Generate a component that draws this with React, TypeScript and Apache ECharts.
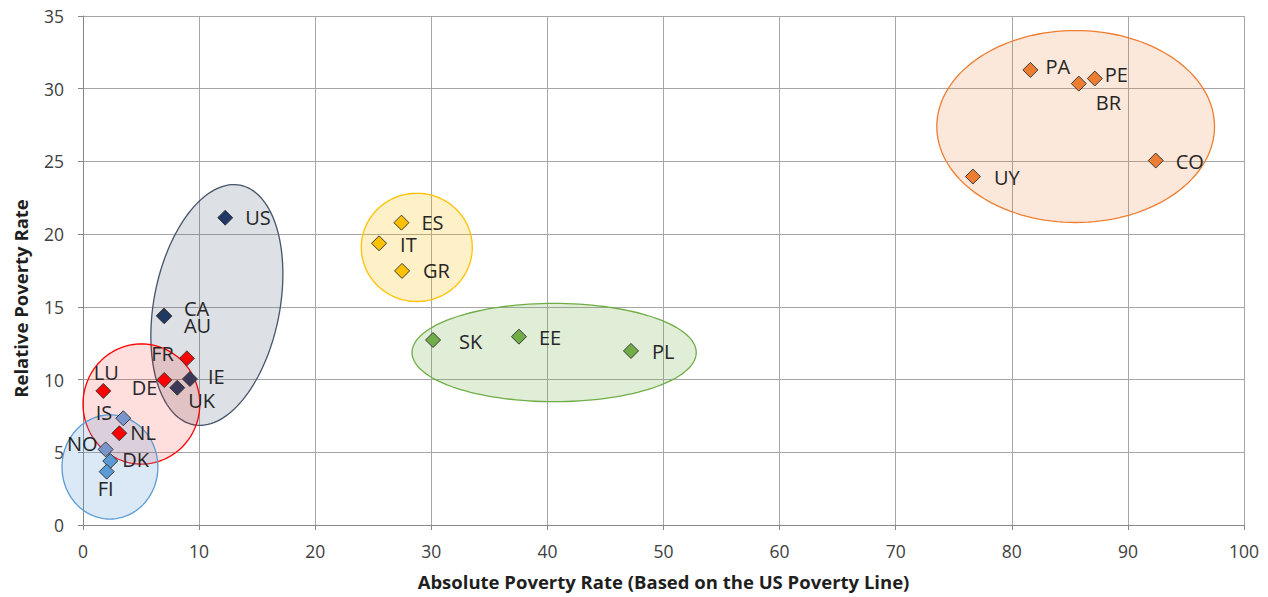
import React, { useEffect, useRef } from "react";
import * as echarts from "echarts";

// ---- Data ----
const codes = ["US","CA","AU","FR","IE","UK","DE","LU","IS","NL","NO","DK","FI","ES","IT","GR","SK","EE","PL","PA","PE","BR","CO","UY"];
const absoluteRate = [12.25,6.97,7.0,8.95,9.21,8.12,7.0,1.75,3.47,3.13,1.95,2.35,2.04,27.43,25.5,27.48,30.15,37.55,47.2,81.6,87.15,85.77,92.4,76.65];
const relativeRate = [21.13,14.4,14.35,11.46,10.04,9.44,9.97,9.22,7.34,6.31,5.2,4.4,3.67,20.79,19.37,17.47,12.72,12.95,11.97,31.29,30.7,30.35,25.06,23.96];
const markerGroup = [0,0,0,2,1,1,2,2,3,2,3,4,4,5,5,5,6,6,6,7,7,7,7,7];
const groupColors = ["#1f3864","#3b3858","#ff0000","#7a95cc","#5b9bd5","#ffc000","#70ad47","#ed7d31"];

const xTicks = [0,10,20,30,40,50,60,70,80,90,100];
const yTicks = [0,5,10,15,20,25,30,35];
const xTitle = "Absolute Poverty Rate (Based on the US Poverty Line)";
const yTitle = "Relative Poverty Rate";

// cluster ellipses (center x, center y, radius x, radius y in data units, rotation deg)
const ellipseCx = [11.53, 5.03, 2.32, 28.75, 40.58, 85.5];
const ellipseCy = [15.13, 8.32, 3.99, 19.09, 11.86, 27.4];
const ellipseRx = [5.42, 5.03, 4.13, 4.78, 12.24, 11.96];
const ellipseRy = [8.39, 4.13, 3.58, 3.72, 3.38, 6.6];
const ellipseRot = [-11, 0, 0, 0, 0, 0];
const ellipseStroke = ["#44546a", "#ff0000", "#5b9bd5", "#ffc000", "#70ad47", "#ed7d31"];
const ellipseFill = ["rgba(68,84,106,0.18)", "rgba(255,0,0,0.13)", "rgba(91,155,213,0.22)", "rgba(255,192,0,0.22)", "rgba(112,173,71,0.22)", "rgba(237,125,49,0.18)"];

// label placement (align, dx, dy); CA and AU share one two-line label (coincident points)
const labelPlace: Record<string, [string, number, number]> = {
  US: ["left", 20, 0], CA: ["left", 20, 1], AU: ["left", 20, 0],
  FR: ["right", -13, -5], IE: ["left", 18, -2], UK: ["left", 11, 13],
  DE: ["right", -7, 7], LU: ["center", 3, -18], IS: ["right", -11, -6],
  NL: ["left", 11, -1], NO: ["right", -8, -6], DK: ["left", 12, -2],
  FI: ["center", -1, 17], ES: ["left", 20, 0], IT: ["left", 21, 1],
  GR: ["left", 21, 0], SK: ["left", 26, 1], EE: ["left", 20, 1],
  PL: ["left", 21, 1], PA: ["left", 15, -3], PE: ["left", 10, -4],
  BR: ["left", 17, 19], CO: ["left", 20, 1], UY: ["left", 21, 1],
};
const sharedLabel: Record<string, string> = { CA: "CA\nAU", AU: "" };

export default function App() {
  const ref = useRef<HTMLDivElement>(null);
  useEffect(() => {
    if (!ref.current) return;
    const chart = echarts.init(ref.current, null, { renderer: "svg" });
    const font = "'Open Sans', 'Noto Sans', sans-serif";

    const ellipseData = ellipseCx.map((cx, i) => [cx, ellipseCy[i], ellipseRx[i], ellipseRy[i], ellipseRot[i], i]);

    const scatterSeries = groupColors.map((color, g) => ({
      type: "scatter",
      symbol: "diamond",
      symbolSize: 15,
      z: 5,
      itemStyle: { color, borderColor: "#3a3a3a", borderWidth: 1, opacity: 1 },
      data: codes
        .map((c, i) => ({ c, i }))
        .filter(({ i }) => markerGroup[i] === g)
        .map(({ c, i }) => {
          const p = labelPlace[c];
          const text = c in sharedLabel ? sharedLabel[c] : c;
          return {
            name: c,
            value: [absoluteRate[i], relativeRate[i]],
            label: {
              show: text !== "",
              formatter: text,
              position: "inside",
              align: p[0],
              verticalAlign: "middle",
              offset: [p[1], p[2]],
              fontSize: 20,
              lineHeight: 17,
              fontFamily: font,
              color: "#262626",
            },
          };
        }),
    }));

    chart.setOption({
      animation: false,
      backgroundColor: "#ffffff",
      grid: { left: 83, right: 24, top: 16, bottom: 72 },
      graphic: [
        {
          type: "text",
          x: 20,
          y: 298.5,
          rotation: Math.PI / 2,
          silent: true,
          style: {
            text: yTitle,
            fontSize: 18.5,
            fontWeight: "bold",
            fontFamily: font,
            fill: "#1f1f1f",
            align: "center",
            verticalAlign: "middle",
          },
        },
      ],
      xAxis: {
        type: "value",
        min: xTicks[0],
        max: xTicks[xTicks.length - 1],
        interval: 10,
        name: xTitle,
        nameLocation: "middle",
        nameGap: 47,
        nameTextStyle: { fontSize: 18.5, fontWeight: "bold", fontFamily: font, color: "#1f1f1f" },
        axisLine: { show: true, lineStyle: { color: "#868686" } },
        axisTick: { show: true, length: 5, lineStyle: { color: "#868686" } },
        axisLabel: { fontSize: 17.5, fontFamily: font, color: "#404040", margin: 17 },
        splitLine: { show: true, lineStyle: { color: "#a6a6a6", width: 1 } },
      },
      yAxis: {
        type: "value",
        min: yTicks[0],
        max: yTicks[yTicks.length - 1],
        interval: 5,
        axisLine: { show: true, lineStyle: { color: "#868686" } },
        axisTick: { show: true, length: 5, lineStyle: { color: "#868686" } },
        axisLabel: { fontSize: 17.5, fontFamily: font, color: "#404040", margin: 19 },
        splitLine: { show: true, lineStyle: { color: "#a6a6a6", width: 1 } },
      },
      series: [
        {
          type: "custom",
          silent: true,
          z: 2,
          clip: false,
          data: ellipseData,
          renderItem: (params: any, api: any) => {
            const c = api.coord([api.value(0), api.value(1)]);
            const s = api.size([api.value(2), api.value(3)]);
            const rot = (api.value(4) * Math.PI) / 180;
            const idx = api.value(5);
            const pts: number[][] = [];
            const n = 140;
            for (let k = 0; k < n; k++) {
              const t = (k / n) * Math.PI * 2;
              const ex = s[0] * Math.cos(t);
              const ey = s[1] * Math.sin(t);
              const rx = ex * Math.cos(rot) + ey * Math.sin(rot);
              const ry = -ex * Math.sin(rot) + ey * Math.cos(rot);
              pts.push([c[0] + rx, c[1] + ry]);
            }
            return {
              type: "polygon",
              shape: { points: pts },
              style: { fill: ellipseFill[idx], stroke: ellipseStroke[idx], lineWidth: 1.3 },
            };
          },
        },
        ...scatterSeries,
      ],
    });
    return () => chart.dispose();
  }, []);
  return (
    <div
      ref={ref}
      style={{ position: "fixed", left: 0, top: 0, width: 1268, height: 597, background: "#fff" }}
    />
  );
}
